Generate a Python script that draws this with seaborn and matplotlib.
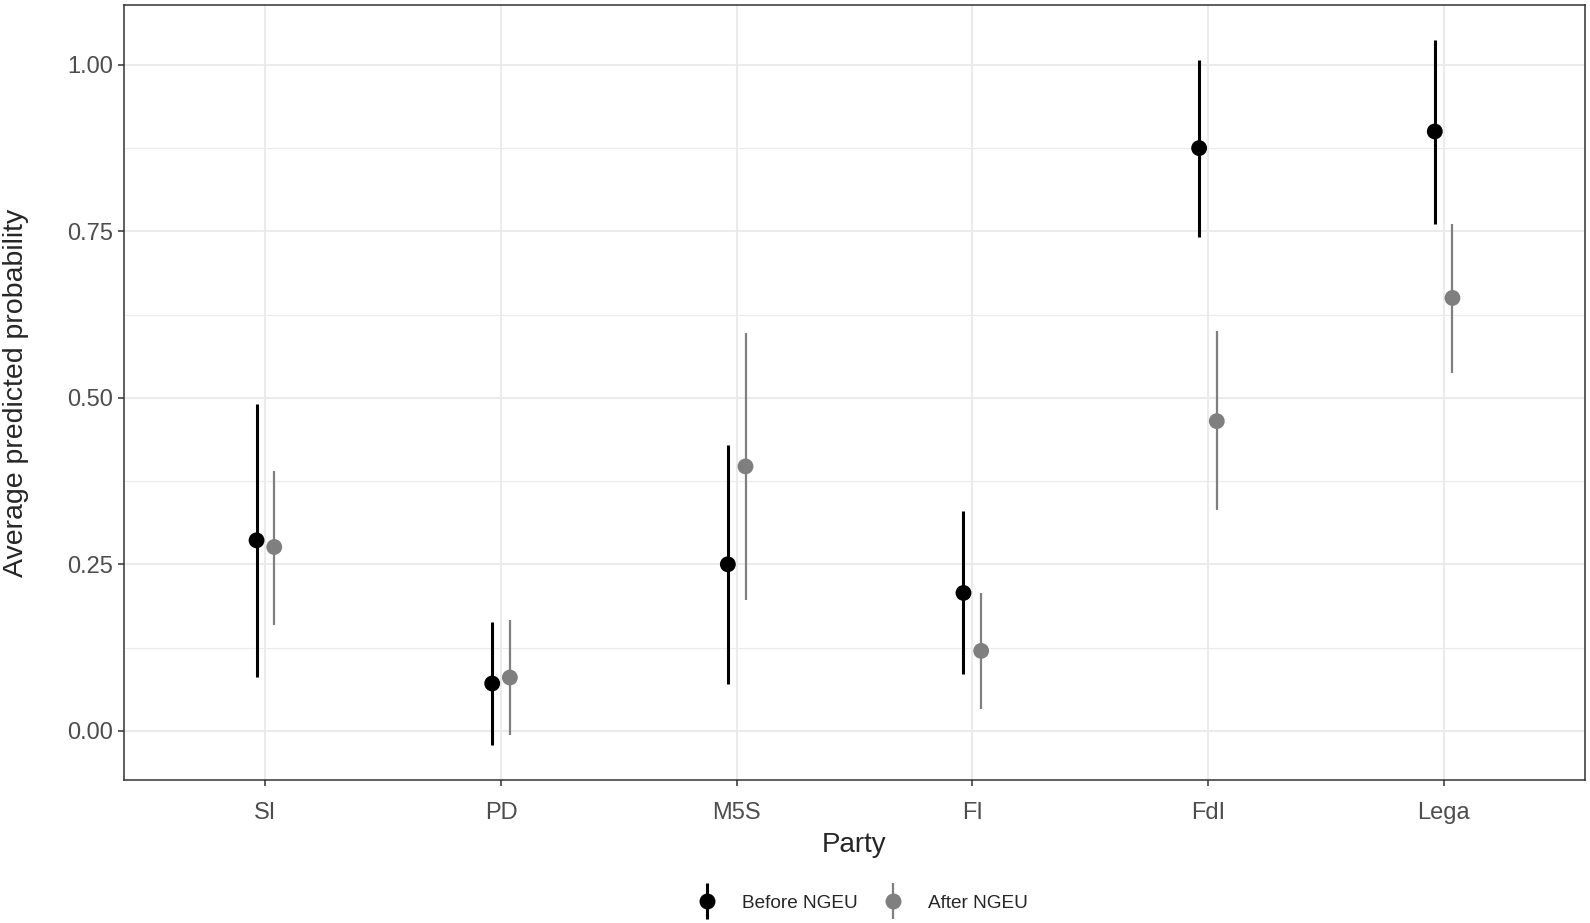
import numpy as np
import pandas as pd
import matplotlib.pyplot as plt
from matplotlib.lines import Line2D
from matplotlib.legend_handler import HandlerTuple
import seaborn as sns

# =========================
# Data
# =========================
parties = ["SI", "PD", "M5S", "FI", "FdI", "Lega"]
periods = ["Before NGEU", "After NGEU"]

before_est = [0.286, 0.071, 0.250, 0.207, 0.875, 0.900]
before_lo = [0.081, -0.021, 0.071, 0.085, 0.741, 0.761]
before_hi = [0.491, 0.163, 0.429, 0.330, 1.008, 1.037]

after_est = [0.276, 0.080, 0.397, 0.120, 0.465, 0.650]
after_lo = [0.159, -0.007, 0.197, 0.032, 0.331, 0.537]
after_hi = [0.390, 0.167, 0.597, 0.207, 0.601, 0.761]

# long-form table
data = pd.concat([
    pd.DataFrame({"Party": parties, "Period": periods[0],
                  "est": before_est, "lo": before_lo, "hi": before_hi}),
    pd.DataFrame({"Party": parties, "Period": periods[1],
                  "est": after_est, "lo": after_lo, "hi": after_hi}),
], ignore_index=True)

dodge = {"Before NGEU": -0.0375, "After NGEU": 0.0375}
data["xpos"] = data["Party"].map({p: i for i, p in enumerate(parties)}) + data["Period"].map(dodge)

palette = {"Before NGEU": "black", "After NGEU": "#7F7F7F"}
line_w = {"Before NGEU": 2.2, "After NGEU": 1.6}

# =========================
# Plot
# =========================
sns.set_style("white")
plt.rcParams["font.family"] = ["Liberation Sans", "DejaVu Sans"]

fig = plt.figure(figsize=(15.9, 9.23), dpi=100)
ax = fig.add_axes([124 / 1590, 1 - 780 / 923, 1461 / 1590, 775 / 923])

# grid (theme_bw style)
ax.set_axisbelow(True)
ax.set_yticks([0.125, 0.375, 0.625, 0.875], minor=True)
ax.grid(which="major", color="#EBEBEB", linewidth=1.5)
ax.grid(which="minor", axis="y", color="#EBEBEB", linewidth=0.8)

# confidence intervals
for per in periods:
    sub = data[data["Period"] == per]
    ax.vlines(sub["xpos"], sub["lo"], sub["hi"], color=palette[per],
              linewidth=line_w[per], zorder=2)

# point estimates
sns.scatterplot(ax=ax, data=data, x="xpos", y="est", hue="Period",
                palette=palette, s=130, linewidth=0, legend=False, zorder=3)

# axes limits like ggplot expansion
lo_all = data["lo"].min()
hi_all = data["hi"].max()
pad = (hi_all - lo_all) * 0.05
ax.set_ylim(lo_all - pad, hi_all + pad)
ax.set_xlim(-0.6, len(parties) - 0.4)

ax.set_xticks(range(len(parties)))
ax.set_xticklabels(parties)
ax.set_yticks([0, 0.25, 0.5, 0.75, 1.0])
ax.set_yticklabels(["0.00", "0.25", "0.50", "0.75", "1.00"])
ax.tick_params(axis="both", which="major", labelsize=17, labelcolor="#4D4D4D",
               color="#333333", length=4, width=1.1, pad=4, direction="out",
               bottom=True, left=True)
ax.tick_params(axis="x", which="major", pad=12)
ax.tick_params(axis="y", which="minor", length=0)

for sp in ax.spines.values():
    sp.set_color("#333333")
    sp.set_linewidth(1.1)

ax.set_xlabel("Party", fontsize=20)
ax.xaxis.set_label_coords(0.5, -65 / 775)
ax.xaxis.label.set_verticalalignment("center")
ax.set_ylabel("Average predicted probability", fontsize=20.5)
ax.yaxis.set_label_coords(-108 / 1461, 0.5)
ax.yaxis.label.set_verticalalignment("center")

# legend with pointrange glyphs
handles = []
for per in periods:
    bar = Line2D([], [], color=palette[per], marker="|", markersize=26,
                 markeredgewidth=line_w[per], linestyle="none")
    dot = Line2D([], [], color=palette[per], marker="o", markersize=11.5,
                 markeredgewidth=0, linestyle="none")
    handles.append((bar, dot))

fig.legend(handles, periods, handler_map={tuple: HandlerTuple(ndivide=1)},
           loc="center", bbox_to_anchor=(862 / 1590, 1 - 903 / 923), ncol=2,
           frameon=False, fontsize=13.7, handlelength=1.2, handletextpad=1.25,
           columnspacing=1.25)

plt.savefig("out.png", dpi=100)
